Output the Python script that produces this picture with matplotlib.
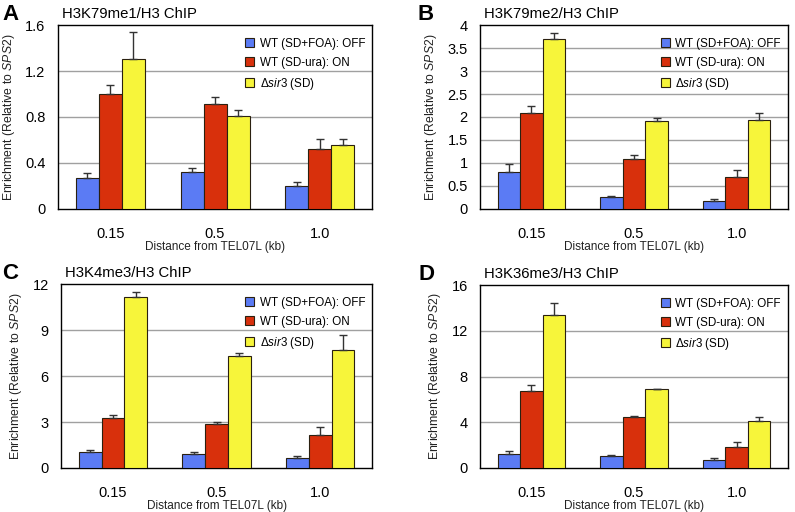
import matplotlib
matplotlib.use("Agg")
import matplotlib.pyplot as plt
import numpy as np

plt.rcParams['font.family'] = ['Liberation Sans', 'DejaVu Sans']
plt.rcParams['mathtext.fontset'] = 'custom'
plt.rcParams['mathtext.rm'] = 'Liberation Sans'
plt.rcParams['mathtext.it'] = 'Liberation Sans:italic'

distances = ["0.15", "0.5", "1.0"]
series_names = ["WT (SD+FOA): OFF", "WT (SD-ura): ON", r"$\Delta\it{sir3}$ (SD)"]
colors = ["#5b7bf4", "#d8300c", "#f7f53a"]

# panel A: H3K79me1
a_vals = [[0.27, 0.32, 0.20], [1.00, 0.91, 0.52], [1.305, 0.81, 0.555]]
a_errs = [[0.045, 0.04, 0.037], [0.075, 0.06, 0.09], [0.235, 0.048, 0.05]]
# panel B: H3K79me2
b_vals = [[0.81, 0.26, 0.175], [2.08, 1.09, 0.70], [3.70, 1.91, 1.93]]
b_errs = [[0.175, 0.03, 0.035], [0.15, 0.08, 0.14], [0.13, 0.07, 0.16]]
# panel C: H3K4me3
c_vals = [[1.03, 0.94, 0.65], [3.27, 2.88, 2.14], [11.15, 7.33, 7.70]]
c_errs = [[0.15, 0.13, 0.14], [0.20, 0.11, 0.54], [0.37, 0.17, 0.96]]
# panel D: H3K36me3
d_vals = [[1.25, 1.08, 0.70], [6.75, 4.45, 1.83], [13.41, 6.89, 4.13]]
d_errs = [[0.23, 0.08, 0.17], [0.49, 0.12, 0.41], [1.02, 0.06, 0.35]]

panels = [
    ("A", "H3K79me1/H3 ChIP", a_vals, a_errs, [0, 0.4, 0.8, 1.2, 1.6], ["0", "0.4", "0.8", "1.2", "1.6"]),
    ("B", "H3K79me2/H3 ChIP", b_vals, b_errs, [0, 0.5, 1, 1.5, 2, 2.5, 3, 3.5, 4],
     ["0", "0.5", "1", "1.5", "2", "2.5", "3", "3.5", "4"]),
    ("C", "H3K4me3/H3 ChIP", c_vals, c_errs, [0, 3, 6, 9, 12], ["0", "3", "6", "9", "12"]),
    ("D", "H3K36me3/H3 ChIP", d_vals, d_errs, [0, 4, 8, 12, 16], ["0", "4", "8", "12", "16"]),
]

positions = [
    [0.073, 0.592, 0.395, 0.359],
    [0.604, 0.592, 0.387, 0.359],
    [0.077, 0.086, 0.391, 0.359],
    [0.604, 0.086, 0.387, 0.357],
]
letter_x = [0.003, 0.525, 0.003, 0.527]

fig = plt.figure(figsize=(7.95, 5.12), dpi=100)
x = np.arange(len(distances))
w = 0.22

for (letter, title, vals, errs, ticks, ticklabels), pos, lx in zip(panels, positions, letter_x):
    ax = fig.add_axes(pos)
    for i in range(3):
        ax.bar(x + (i - 1) * w, vals[i], w, color=colors[i], edgecolor="#2a2010",
               linewidth=0.8, label=series_names[i], zorder=3,
               yerr=[np.zeros(3), errs[i]], capsize=3,
               error_kw=dict(ecolor="#333333", elinewidth=1.0, capthick=1.0, zorder=4))
    ax.set_xlim(-0.5, 2.5)
    ax.set_ylim(0, ticks[-1])
    ax.set_yticks(ticks)
    ax.set_yticklabels(ticklabels, fontsize=10.5)
    ax.set_xticks(x)
    ax.set_xticklabels(distances, fontsize=10.5)
    ax.tick_params(axis="both", length=0)
    ax.tick_params(axis="x", pad=13)
    ax.tick_params(axis="y", pad=9)
    for t in ticks[1:-1]:
        ax.axhline(t, color="#a0a0a0", linewidth=1.0, zorder=1)
    for s in ax.spines.values():
        s.set_color("black")
        s.set_linewidth(1.0)
    ax.set_xlabel("Distance from TEL07L (kb)", fontsize=8.5, color="#222222", labelpad=0)
    ax.set_ylabel(r"Enrichment (Relative to $\it{SPS2}$)", fontsize=8.8, color="#222222", labelpad=6)
    ax.legend(loc="upper right", bbox_to_anchor=(1.0, 0.97), frameon=False, fontsize=8.4,
              handlelength=0.8, handleheight=0.8, handletextpad=0.45, labelspacing=0.6,
              borderaxespad=0.2)
    bb = ax.get_position()
    fig.text(lx, bb.y1 + 0.021, letter, fontsize=16,
             fontweight="bold", va="center", ha="left")
    fig.text(bb.x0 + 0.005, bb.y1 + 0.021, title, fontsize=10.7, va="center", ha="left")

fig.savefig("out.png", dpi=100)
